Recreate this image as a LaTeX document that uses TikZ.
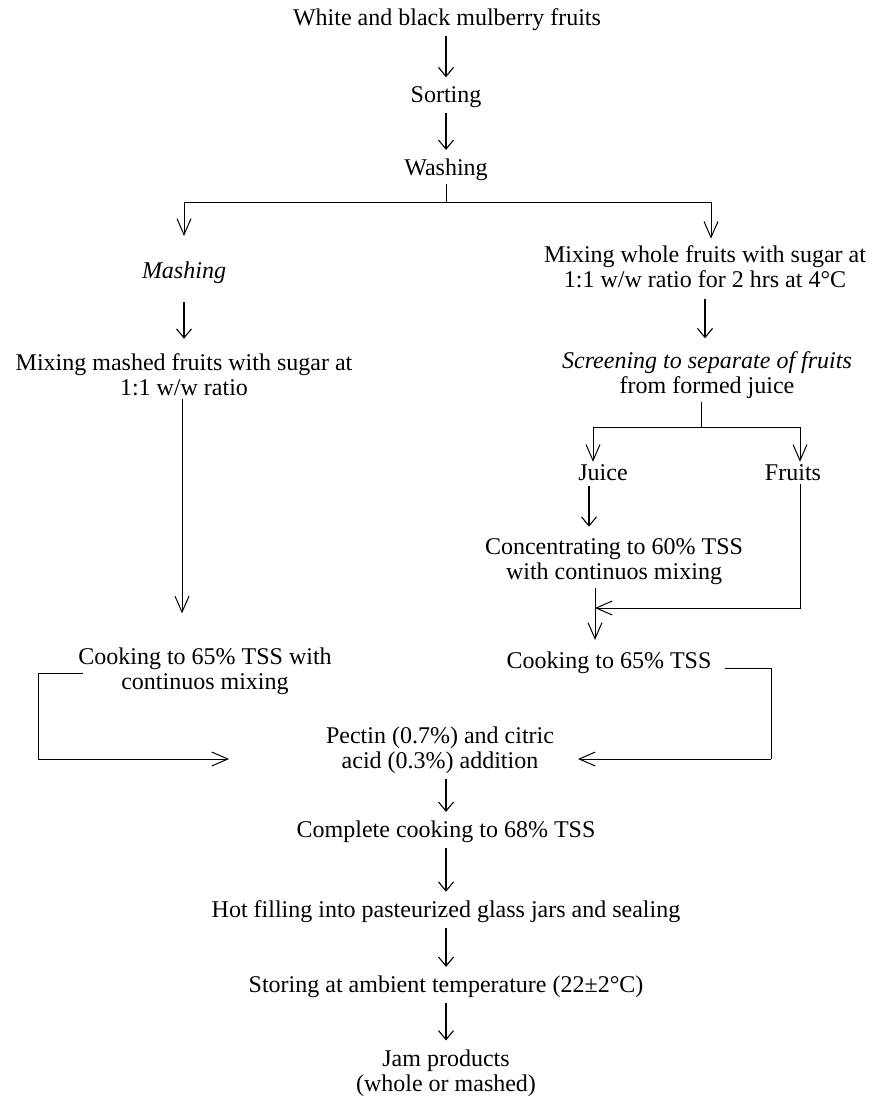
\documentclass[tikz,border=0pt]{standalone}
\usepackage{fontspec}
\setmainfont{Liberation Serif}
\usetikzlibrary{arrows.meta}

\tikzset{
    txt/.style={font=\fontsize{24}{25}\selectfont, align=center, inner sep=3pt},
    flow/.style={-{Straight Barb[length=9pt,width=15pt]}, line width=1.1pt, shorten <=2pt, shorten >=6pt},
    branch/.style={-{Straight Barb[length=16pt,width=14pt]}, line width=1pt}
}

\begin{document}
\begin{tikzpicture}[x=1pt, y=-1pt]
    \useasboundingbox (0,0) rectangle (871,1101);

    % Main line
    \node[txt] (fruits) at (447,20) {White and black mulberry fruits};
    \node[txt] (sort) at (446,97) {Sorting};
    \node[txt] (wash) at (446,170) {Washing};

    % Left branch (mashed)
    \node[txt] (mash) at (184,273) {\itshape Mashing};
    \node[txt] (mixmash) at (184,375) {Mixing mashed fruits with sugar at\\1:1 w/w ratio};
    \node[txt] (cookl) at (205,671) {Cooking to 65\% TSS with\\continuos mixing};

    % Right branch (whole)
    \node[txt] (mixwhole) at (705,267) {Mixing whole fruits with sugar at\\1:1 w/w ratio for 2 hrs at 4°C};
    \node[txt] (screen) at (707,375) {\itshape Screening to separate of fruits\\from formed juice};
    \node[txt] (juice) at (603,473) {Juice};
    \node[txt] (fruitsb) at (793,473) {Fruits};
    \node[txt] (conc) at (614,562) {Concentrating to 60\% TSS\\with continuos mixing};
    \node[txt] (cookr) at (609,663) {Cooking to 65\% TSS};

    % Common end
    \node[txt] (pectin) at (440,750) {Pectin (0.7\%) and citric\\acid (0.3\%) addition};
    \node[txt] (complete) at (446,832) {Complete cooking to 68\% TSS};
    \node[txt] (hot) at (446,912) {Hot filling into pasteurized glass jars and sealing};
    \node[txt] (store) at (446,987) {Storing at ambient temperature (22±2°C)};
    \node[txt] (jam) at (446,1073) {Jam products\\(whole or mashed)};

    % Split points and free ends
    \coordinate (wsplit) at (446,202);
    \coordinate (ssplit) at (701,427);
    \coordinate (merge) at (595,608);
    \coordinate (lcorner) at (38,759);
    \coordinate (lend) at (229,759);
    \coordinate (rcorner) at (771,759);
    \coordinate (rend) at (578,759);

    % Arrows
    \draw[flow] (sort.north |- fruits.south) -- (sort);
    \draw[flow] (sort) -- (wash);
    \draw[line width=1pt] (wash.south) -- (wsplit);
    \draw[branch, shorten >=23pt] (wsplit) -| (mash.north);
    \draw[branch, shorten >=4pt] (wsplit) -| ([xshift=6pt]mixwhole.north);

    \draw[flow, shorten <=15pt, shorten >=12pt] (mash) -- (mixmash);
    \draw[branch, shorten >=31pt] ([xshift=-2pt]mixmash.south) -- ([xshift=-2pt]mixmash.south |- cookl.north);

    \draw[flow, shorten <=8pt, shorten >=10pt] (mixwhole.south) -- (mixwhole.south |- screen.north);
    \draw[line width=1pt] ([xshift=-6pt]screen.south) -- (ssplit);
    \draw[branch] (ssplit) -| ([xshift=-10pt]juice.north);
    \draw[branch] (ssplit) -| ([xshift=7pt]fruitsb.north);
    \draw[flow, shorten >=9pt] ([xshift=-14pt]juice.south) -- ([xshift=-14pt]juice.south |- conc.north);
    \draw[branch] ([xshift=7pt]fruitsb.south) |- (merge);
    \draw[branch, shorten >=9pt] (conc.south -| merge) -- (merge |- cookr.north);

    \draw[line width=1pt] ([yshift=-5pt]cookr.east) ++(10pt,0) -| (rcorner);
    \draw[branch] (rcorner) -- (rend);
    \draw[line width=1pt] ([yshift=-2pt]cookl.west) ++(8pt,0) -| (lcorner);
    \draw[branch] (lcorner) -- (lend);

    \draw[flow] (complete.north |- pectin.south) -- (complete);
    \draw[flow] (complete) -- (hot);
    \draw[flow] (hot) -- (store);
    \draw[flow] (store) -- (jam);
\end{tikzpicture}
\end{document}
